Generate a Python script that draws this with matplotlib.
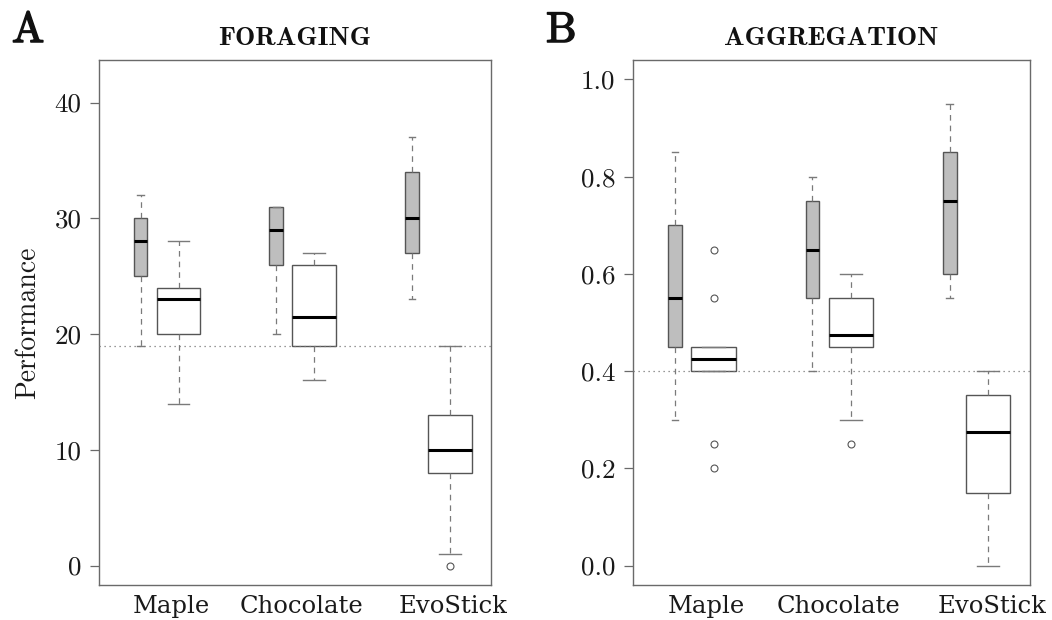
import matplotlib
matplotlib.use('Agg')
import matplotlib.pyplot as plt
import matplotlib.patheffects as pe

# ---------------- data ----------------
groups = ['Maple', 'Chocolate', 'EvoStick']

# FORAGING (panel A) - grey boxes
forag_gray_whislo = [19, 20, 23]
forag_gray_q1 = [25, 26, 27]
forag_gray_med = [28, 29, 30]
forag_gray_q3 = [30, 31, 34]
forag_gray_whishi = [32, 31, 37]
forag_gray_fliers = [[], [], []]
# FORAGING - white boxes
forag_white_whislo = [14, 16, 1]
forag_white_q1 = [20, 19, 8]
forag_white_med = [23, 21.5, 10]
forag_white_q3 = [24, 26, 13]
forag_white_whishi = [28, 27, 19]
forag_white_fliers = [[], [], [0]]
forag_baseline = 19
forag_yticks = [0, 10, 20, 30, 40]
forag_yticklabels = ['0', '10', '20', '30', '40']

# AGGREGATION (panel B) - grey boxes
aggr_gray_whislo = [0.30, 0.40, 0.55]
aggr_gray_q1 = [0.45, 0.55, 0.60]
aggr_gray_med = [0.55, 0.65, 0.75]
aggr_gray_q3 = [0.70, 0.75, 0.85]
aggr_gray_whishi = [0.85, 0.80, 0.95]
aggr_gray_fliers = [[], [], []]
# AGGREGATION - white boxes
aggr_white_whislo = [0.40, 0.30, 0.00]
aggr_white_q1 = [0.40, 0.45, 0.15]
aggr_white_med = [0.425, 0.475, 0.275]
aggr_white_q3 = [0.45, 0.55, 0.35]
aggr_white_whishi = [0.45, 0.60, 0.40]
aggr_white_fliers = [[0.65, 0.55, 0.25, 0.20], [0.25], []]
aggr_baseline = 0.4
aggr_yticks = [0.0, 0.2, 0.4, 0.6, 0.8, 1.0]
aggr_yticklabels = ['0.0', '0.2', '0.4', '0.6', '0.8', '1.0']


def make_stats(lo, q1, med, q3, hi, fl):
    return [dict(whislo=a, q1=b, med=c, q3=d, whishi=e, fliers=f)
            for a, b, c, d, e, f in zip(lo, q1, med, q3, hi, fl)]


# ---------------- layout / style ----------------
W, H = 1052, 620
fig = plt.figure(figsize=(W / 100, H / 100), dpi=100)

EDGE = '#555555'
WHISK = '#7a7a7a'
FRAME = '#6a6a6a'
GREY = '#bebebe'

base = [1, 2, 3]
white_off = 0.28
gray_w = 0.10
white_w = 0.322
label_off = [0.226, 0.187, 0.305]


def draw_panel(ax, gstats, wstats, baseline, yticks, yticklabels, ylim, title):
    common = dict(patch_artist=True, manage_ticks=False,
                  medianprops=dict(color='black', lw=2.2, solid_capstyle='butt'),
                  whiskerprops=dict(color=WHISK, lw=0.9, linestyle=(0, (4.5, 4))),
                  capprops=dict(color=WHISK, lw=1.0),
                  flierprops=dict(marker='o', markersize=5, markerfacecolor='none',
                                  markeredgecolor=EDGE, markeredgewidth=0.8))
    gpos = list(base)
    wpos = [b + white_off for b in base]
    ax.bxp(gstats, positions=gpos, widths=gray_w, capwidths=gray_w * 0.5,
           boxprops=dict(facecolor=GREY, edgecolor=EDGE, lw=1.0), **common)
    ax.bxp(wstats, positions=wpos, widths=white_w, capwidths=white_w * 0.5,
           boxprops=dict(facecolor='white', edgecolor=EDGE, lw=1.0), **common)
    ax.axhline(baseline, color='#777777', lw=0.9, linestyle=(0, (1, 3)), zorder=5)
    span = ylim[1] - ylim[0]
    ax.set_ylim(ylim[0] - 0.04 * span, ylim[1] + 0.04 * span)
    ax.set_xlim(0.694, 3.583)
    ax.set_yticks(yticks)
    ax.set_yticklabels(yticklabels, fontfamily='cmr10', fontsize=19.5, color='#1a1a1a')
    ax.tick_params(axis='y', direction='out', length=6.5, width=0.9, color=FRAME, pad=6)
    ax.set_xticks([b + o for b, o in zip(base, label_off)])
    ax.set_xticklabels(groups, fontfamily='DejaVu Serif', fontsize=17.5, color='#1a1a1a')
    ax.tick_params(axis='x', length=0, pad=7)
    for s in ax.spines.values():
        s.set_color(FRAME)
        s.set_linewidth(1.0)
    ax.set_title(title, fontfamily='cmb10', fontsize=19.5, pad=11, color='#111111')


axA = fig.add_axes([99 / W, 1 - 585 / H, (491 - 99) / W, (585 - 60) / H])
draw_panel(axA,
           make_stats(forag_gray_whislo, forag_gray_q1, forag_gray_med, forag_gray_q3,
                      forag_gray_whishi, forag_gray_fliers),
           make_stats(forag_white_whislo, forag_white_q1, forag_white_med, forag_white_q3,
                      forag_white_whishi, forag_white_fliers),
           forag_baseline, forag_yticks, forag_yticklabels, (0, 42), 'FORAGING')
axA.set_ylabel('Performance', fontfamily='cmr10', fontsize=20, labelpad=10, color='#1a1a1a')

axB = fig.add_axes([633 / W, 1 - 585 / H, (1030 - 633) / W, (585 - 60) / H])
draw_panel(axB,
           make_stats(aggr_gray_whislo, aggr_gray_q1, aggr_gray_med, aggr_gray_q3,
                      aggr_gray_whishi, aggr_gray_fliers),
           make_stats(aggr_white_whislo, aggr_white_q1, aggr_white_med, aggr_white_q3,
                      aggr_white_whishi, aggr_white_fliers),
           aggr_baseline, aggr_yticks, aggr_yticklabels, (0, 1), 'AGGREGATION')

for label, xpix in (('A', 12), ('B', 546)):
    fig.text(xpix / W, 1 - 42 / H, label, fontfamily='cmr10', fontsize=31,
             ha='left', va='baseline', color='#111111',
             path_effects=[pe.withStroke(linewidth=1.1, foreground='#111111')])

fig.savefig('out.png', dpi=100)
